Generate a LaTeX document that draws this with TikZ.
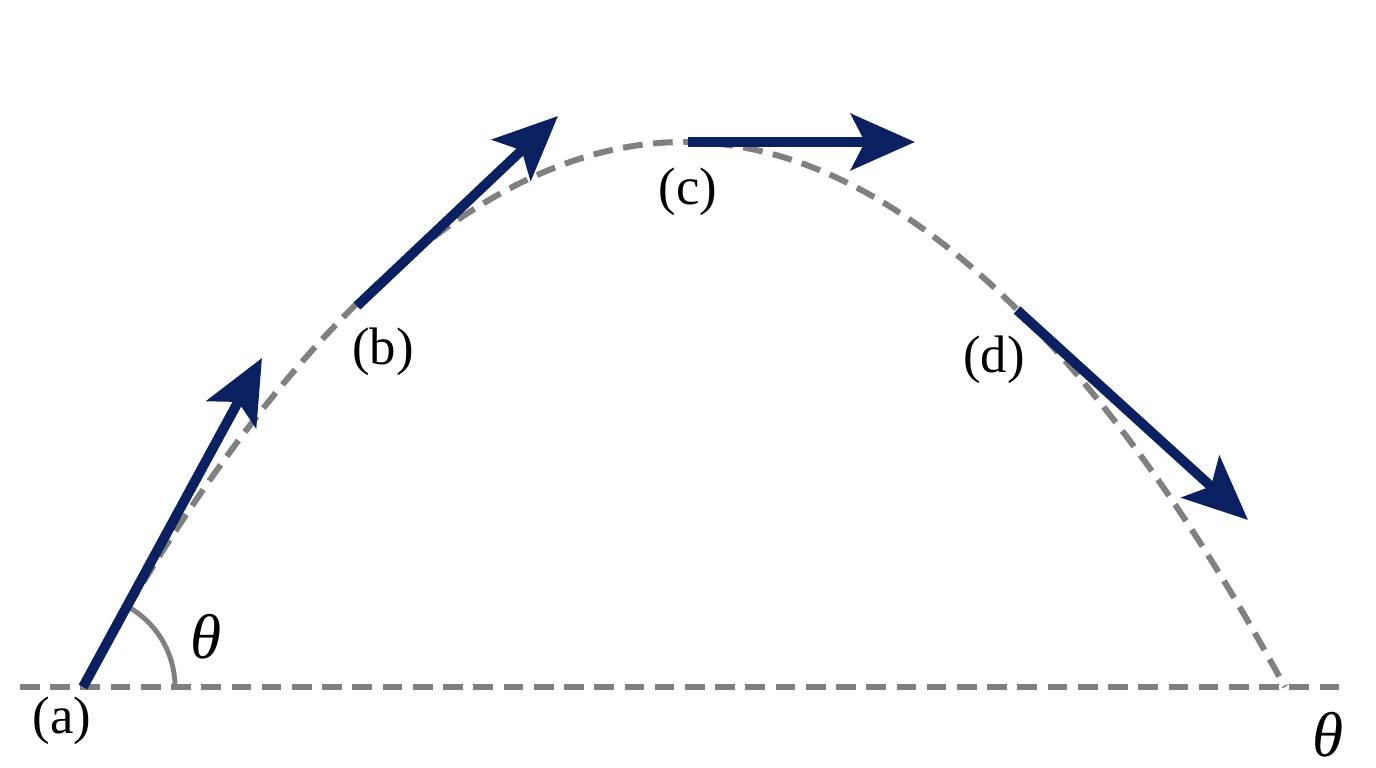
\documentclass[tikz,border=0pt]{standalone}
\usepackage{fontspec}
\setmainfont{Liberation Serif}
\usepackage{tikz}
\usetikzlibrary{arrows.meta,calc}
\definecolor{velBlue}{RGB}{10,32,96}
\definecolor{pathGray}{RGB}{128,128,128}
\tikzset{
    velArrow/.style={
        ,   draw=velBlue
        ,   line width=2.8pt
        ,   -{Stealth[length=6.4mm, width=5.6mm, inset=1.4mm]}
    },
    pathLine/.style={
        ,   draw=pathGray
        ,   line width=1.7pt
        ,   dash pattern=on 5.6pt off 3pt
    },
    posLabel/.style={
        ,   font={\fontsize{15pt}{17pt}\selectfont}
        ,   text=black
        ,   inner sep=0pt
    }
}
\begin{document}
\begin{tikzpicture}
		\useasboundingbox (0,0) rectangle (13.76,7.68);
		% trajectory and ground
		\coordinate (gL) at (0.20,0.81);
		\coordinate (gR) at (13.40,0.81);
		\coordinate (launch) at (0.83,0.81);
		\coordinate (land) at (12.85,0.81);
		\coordinate (top) at (6.84,6.26);
		\draw[pathLine] (gL) -- (gR);
		\draw[pathLine] (launch) parabola bend (top) (land);
		% angle at launch
		\draw[pathGray, line width=1.4pt] ($(launch)+(0.92,0)$) arc (0:61:0.92);
		% velocity arrows
		\coordinate (a0) at (0.83,0.81);  \coordinate (a1) at (2.62,4.10);
		\coordinate (b0) at (3.57,4.62);  \coordinate (b1) at (5.58,6.52);
		\coordinate (c0) at (6.88,6.26);  \coordinate (c1) at (9.15,6.26);
		\coordinate (d0) at (10.17,4.58); \coordinate (d1) at (12.48,2.48);
		\foreach \s in {a,b,c,d}{
			\draw[velArrow] (\s0) -- (\s1);
		}
		% labels
		\node[posLabel] (la) at (0.62,0.47) {(a)};
		\node[posLabel] (lb) at (3.83,4.16) {(b)};
		\node[posLabel] (lc) at (6.88,5.76) {(c)};
		\node[posLabel] (ld) at (9.94,4.08) {(d)};
		\node[posLabel, font={\fontsize{18pt}{20pt}\selectfont\itshape}] (th1) at (2.06,1.31) {θ};
		\node[posLabel, font={\fontsize{18pt}{20pt}\selectfont\itshape}] (th2) at (13.28,0.33) {θ};
\end{tikzpicture}
\end{document}
